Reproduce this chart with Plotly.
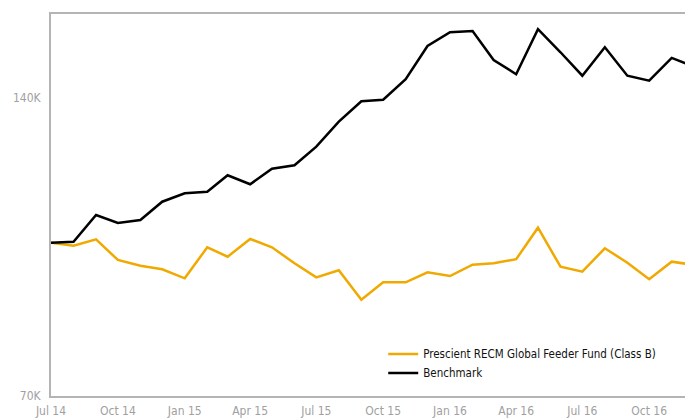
import plotly.graph_objects as go
import pandas as pd
import math

dates = pd.date_range("2014-07-01", "2016-12-01", freq="MS")

fund_name = "Prescient RECM Global Feeder Fund (Class B)"
bench_name = "Benchmark"

fund = [100000, 99290, 100780, 96050, 94780, 93990, 92040, 98930, 96790, 100860,
        98930, 95310, 92250, 93770, 87580, 91190, 91190, 93330, 92530, 95000,
        95310, 96220, 103540, 94560, 93460, 98700, 95450, 91830, 95670, 94966]

bench = [100000, 100200, 106650, 104690, 105420, 109990, 112170, 112590, 116960, 114540,
         118770, 119710, 125000, 132500, 138930, 139450, 146220, 158000, 163130, 163630,
         152940, 147960, 164270, 155710, 147440, 157520, 147440, 145740, 153660, 150642]

y_tick_vals = [70000, 140000]
y_tick_text = ["70K", "140K"]

FONT = "DejaVu Sans Condensed, Liberation Sans Narrow, Roboto, sans-serif"
ORANGE = "#f0a900"
LABEL_ORANGE = "#f7bb00"
AXIS = "#b4b4b4"

fig = go.Figure()
fig.add_trace(go.Scatter(x=dates, y=fund, mode="lines", name=fund_name,
                         line=dict(color=ORANGE, width=2.5)))
fig.add_trace(go.Scatter(x=dates, y=bench, mode="lines", name=bench_name,
                         line=dict(color="#000000", width=2.5)))

fig.add_annotation(x=1, xref="paper", y=bench[-1], yref="y", yshift=-41,
                   xanchor="right", xshift=-5, showarrow=False,
                   text=f"{bench[-1]:,}".replace(",", " "),
                   font=dict(family=FONT, size=12, color="#222222"))
fig.add_annotation(x=1, xref="paper", y=fund[-1], yref="y", yshift=33,
                   xanchor="right", xshift=-5, showarrow=False,
                   text=f"{fund[-1]:,}".replace(",", " "),
                   font=dict(family=FONT, size=12, color=LABEL_ORANGE))

fig.update_layout(
    width=685, height=419,
    margin=dict(l=51, r=0, t=14, b=23),
    paper_bgcolor="white", plot_bgcolor="white",
    showlegend=True,
    legend=dict(x=0.524, y=0.148, xanchor="left", yanchor="top",
                bgcolor="rgba(0,0,0,0)", itemwidth=30,
                font=dict(family=FONT, size=11.5, color="#111111"),
                tracegroupgap=0),
    xaxis=dict(range=["2014-07-01", "2016-11-19 07:00"], type="date",
               dtick="M3", tick0="2014-07-01", tickformat="%b %y",
               showgrid=False, zeroline=False, showline=True, linecolor=AXIS,
               linewidth=2, mirror=True, ticks="", ticklabelstandoff=3,
               tickfont=dict(family=FONT, size=12, color="#a0a0a0")),
    yaxis=dict(type="log", range=[math.log10(70000), math.log10(170200)],
               tickvals=y_tick_vals, ticktext=y_tick_text,
               showgrid=False, zeroline=False, showline=True, linecolor=AXIS,
               linewidth=2, ticks="", ticklabelstandoff=6,
               tickfont=dict(family=FONT, size=12, color="#a0a0a0")),
)

fig.write_html("out.html", config={"displayModeBar": False},
               post_script="document.body.style.margin='0';document.body.style.overflow='hidden';")
